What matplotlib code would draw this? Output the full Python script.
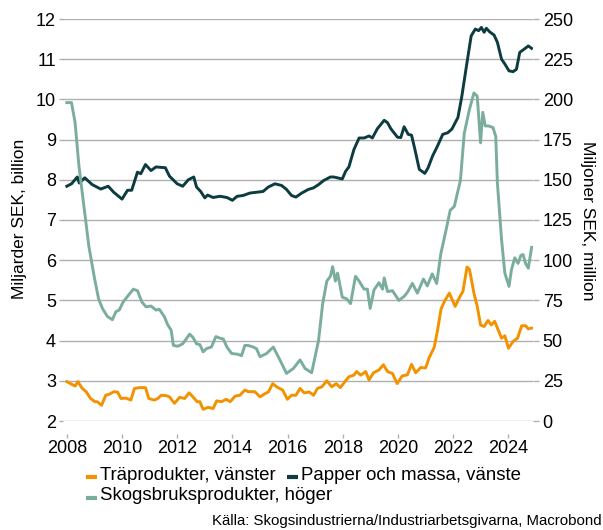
import matplotlib
matplotlib.use('Agg')
import matplotlib.pyplot as plt
from matplotlib.lines import Line2D

plt.rcParams['font.family'] = ['Liberation Sans', 'DejaVu Sans']

# Papper och massa (left axis, miljarder SEK)
papper_x = [2008.0, 2008.17, 2008.38, 2008.45, 2008.65, 2008.92, 2009.23, 2009.5, 2009.7, 2010.0,
            2010.2, 2010.35, 2010.56, 2010.68, 2010.85, 2011.05, 2011.23, 2011.4, 2011.57, 2011.72,
            2012.0, 2012.2, 2012.4, 2012.6, 2012.7, 2012.85, 2013.0, 2013.1, 2013.3, 2013.55,
            2013.8, 2014.0, 2014.17, 2014.39, 2014.63, 2014.87, 2015.11, 2015.3, 2015.54, 2015.78,
            2015.96, 2016.14, 2016.3, 2016.51, 2016.75, 2016.94, 2017.12, 2017.3, 2017.55, 2017.67,
            2017.8, 2017.98, 2018.1, 2018.22, 2018.4, 2018.59, 2018.77, 2018.95, 2019.07, 2019.25,
            2019.5, 2019.62, 2019.74, 2019.98, 2020.1, 2020.22, 2020.37, 2020.49, 2020.61, 2020.77,
            2020.85, 2020.97, 2021.09, 2021.25, 2021.43, 2021.62, 2021.8, 2021.95, 2022.17, 2022.31,
            2022.47, 2022.65, 2022.8, 2022.92, 2023.02, 2023.12, 2023.2, 2023.32, 2023.48, 2023.6,
            2023.75, 2023.87, 2024.02, 2024.17, 2024.29, 2024.41, 2024.57, 2024.72, 2024.84]
papper = [7.84, 7.90, 8.07, 7.92, 8.05, 7.88, 7.77, 7.84, 7.69, 7.52,
          7.74, 7.74, 8.19, 8.15, 8.38, 8.23, 8.32, 8.31, 8.30, 8.09,
          7.90, 7.84, 8.00, 8.07, 7.82, 7.71, 7.55, 7.62, 7.56, 7.59,
          7.56, 7.49, 7.59, 7.61, 7.67, 7.69, 7.71, 7.82, 7.90, 7.86,
          7.76, 7.61, 7.57, 7.67, 7.76, 7.80, 7.88, 7.98, 8.07, 8.07,
          8.05, 8.02, 8.21, 8.32, 8.75, 9.04, 9.04, 9.09, 9.04, 9.27,
          9.48, 9.42, 9.27, 9.06, 9.05, 9.32, 9.13, 9.11, 8.76, 8.26,
          8.22, 8.16, 8.30, 8.59, 8.84, 9.13, 9.17, 9.26, 9.55, 10.07,
          10.79, 11.58, 11.75, 11.71, 11.79, 11.67, 11.77, 11.68, 11.60, 11.42,
          11.00, 10.88, 10.71, 10.69, 10.75, 11.17, 11.25, 11.33, 11.27]

# Träprodukter (left axis, miljarder SEK)
tra_x = [2008.0, 2008.13, 2008.3, 2008.4, 2008.56, 2008.7, 2008.86, 2009.02, 2009.1, 2009.26,
         2009.41, 2009.55, 2009.71, 2009.84, 2009.96, 2010.14, 2010.32, 2010.45, 2010.63, 2010.85,
         2010.97, 2011.17, 2011.3, 2011.42, 2011.6, 2011.72, 2011.9, 2012.09, 2012.27, 2012.43,
         2012.57, 2012.72, 2012.82, 2012.94, 2013.12, 2013.3, 2013.43, 2013.61, 2013.77, 2013.92,
         2014.1, 2014.27, 2014.45, 2014.57, 2014.81, 2015.0, 2015.18, 2015.3, 2015.46, 2015.6,
         2015.82, 2015.99, 2016.14, 2016.3, 2016.45, 2016.6, 2016.79, 2016.94, 2017.08, 2017.24,
         2017.42, 2017.6, 2017.76, 2017.91, 2018.1, 2018.22, 2018.4, 2018.5, 2018.65, 2018.83,
         2018.95, 2019.11, 2019.31, 2019.47, 2019.62, 2019.8, 2019.97, 2020.15, 2020.34, 2020.49,
         2020.64, 2020.82, 2021.0, 2021.13, 2021.31, 2021.43, 2021.56, 2021.7, 2021.86, 2022.07,
         2022.23, 2022.35, 2022.5, 2022.59, 2022.75, 2022.87, 2022.99, 2023.12, 2023.26, 2023.38,
         2023.5, 2023.65, 2023.75, 2023.87, 2024.0, 2024.17, 2024.33, 2024.48, 2024.62, 2024.72,
         2024.84]
tra = [2.98, 2.93, 2.87, 2.98, 2.81, 2.73, 2.56, 2.48, 2.48, 2.39,
       2.64, 2.67, 2.73, 2.72, 2.56, 2.57, 2.52, 2.81, 2.83, 2.83,
       2.56, 2.52, 2.56, 2.64, 2.63, 2.60, 2.44, 2.59, 2.56, 2.70,
       2.60, 2.48, 2.48, 2.29, 2.34, 2.31, 2.50, 2.48, 2.54, 2.48,
       2.62, 2.64, 2.77, 2.73, 2.73, 2.60, 2.68, 2.72, 2.93, 2.85,
       2.77, 2.54, 2.64, 2.64, 2.81, 2.70, 2.72, 2.64, 2.81, 2.85,
       3.00, 2.85, 2.93, 2.83, 3.00, 3.10, 3.14, 3.23, 3.14, 3.23,
       3.02, 3.20, 3.27, 3.40, 3.23, 3.18, 2.93, 3.12, 3.15, 3.41,
       3.20, 3.33, 3.32, 3.58, 3.83, 4.25, 4.79, 5.00, 5.18, 4.85,
       5.08, 5.22, 5.83, 5.77, 5.18, 4.85, 4.39, 4.35, 4.50, 4.39,
       4.48, 4.23, 4.06, 4.12, 3.81, 3.98, 4.06, 4.37, 4.37, 4.29,
       4.31]

# Skogsbruksprodukter (right axis, miljoner SEK)
skog_x = [2008.0, 2008.17, 2008.3, 2008.44, 2008.62, 2008.8, 2008.99, 2009.15, 2009.29, 2009.47,
          2009.65, 2009.78, 2009.9, 2010.04, 2010.2, 2010.41, 2010.56, 2010.72, 2010.87, 2011.05,
          2011.23, 2011.35, 2011.53, 2011.65, 2011.78, 2011.86, 2012.02, 2012.2, 2012.45, 2012.57,
          2012.7, 2012.82, 2012.94, 2013.06, 2013.24, 2013.4, 2013.55, 2013.67, 2013.8, 2013.97,
          2014.2, 2014.33, 2014.45, 2014.57, 2014.75, 2014.87, 2015.0, 2015.24, 2015.48, 2015.72,
          2015.96, 2016.21, 2016.45, 2016.63, 2016.87, 2017.12, 2017.27, 2017.42, 2017.55, 2017.63,
          2017.73, 2017.81, 2017.98, 2018.14, 2018.28, 2018.46, 2018.59, 2018.77, 2018.89, 2018.99,
          2019.13, 2019.31, 2019.44, 2019.5, 2019.62, 2019.8, 2020.03, 2020.22, 2020.34, 2020.52,
          2020.7, 2020.92, 2021.06, 2021.24, 2021.4, 2021.55, 2021.73, 2021.89, 2022.04, 2022.26,
          2022.4, 2022.59, 2022.75, 2022.87, 2022.99, 2023.07, 2023.16, 2023.28, 2023.44, 2023.54,
          2023.6, 2023.75, 2023.87, 2024.02, 2024.11, 2024.23, 2024.35, 2024.45, 2024.53, 2024.62,
          2024.72, 2024.84]
skog = [198, 198, 185.5, 158.5, 133.5, 108.5, 90, 76, 70, 65,
        63, 68, 69, 74, 77.5, 82, 81, 74, 71, 71.5,
        69, 69.5, 65, 60, 56.5, 47, 46.5, 48, 54, 52,
        48, 47.5, 43, 45, 46, 52.5, 51.5, 51, 46, 42,
        41.5, 40.6, 47, 47, 46, 45, 40, 42, 46, 38,
        29.6, 32.7, 38, 32.7, 30, 50, 73, 87, 90, 96,
        87, 92, 77, 76, 73, 90, 87, 82, 82, 70,
        81.5, 86, 82, 89, 80.5, 81, 75, 77.5, 80, 85.6,
        79.5, 88.3, 84, 91.5, 85.5, 104, 118, 131, 133.5, 149.6,
        179, 194, 204, 202, 173, 192, 183.5, 183.5, 182.5, 177,
        148, 113, 92, 83.7, 94, 101.5, 98, 103, 103.5, 98,
        95, 108]

year_ticks = [2008, 2010, 2012, 2014, 2016, 2018, 2020, 2022, 2024]
left_ticks = [2, 3, 4, 5, 6, 7, 8, 9, 10, 11, 12]
right_ticks = [0, 25, 50, 75, 100, 125, 150, 175, 200, 225, 250]

c_tra = '#F39200'
c_papper = '#0C3B40'
c_skog = '#7BAD9E'
c_grid = '#B0B0B0'

fig = plt.figure(figsize=(6.03, 5.30), dpi=100)
ax = fig.add_axes([63 / 603, 1 - 421 / 530, 470 / 603, 402 / 530])
ax2 = ax.twinx()

ax.plot(tra_x, tra, color=c_tra, lw=2.1, solid_joinstyle='round')
ax.plot(papper_x, papper, color=c_papper, lw=2.1, solid_joinstyle='round')
ax2.plot(skog_x, skog, color=c_skog, lw=2.1, solid_joinstyle='round')

ax.set_xlim(2007.862, 2024.89)
ax.set_ylim(2, 12)
ax2.set_ylim(0, 250)
ax.set_yticks(left_ticks)
ax2.set_yticks(right_ticks)
ax.set_xticks(year_ticks)
ax.set_xticklabels([str(y) for y in year_ticks])

ax.grid(axis='y', color=c_grid, lw=1.0)
ax.set_axisbelow(True)
for a in (ax, ax2):
    for s in a.spines.values():
        s.set_visible(False)
ax.spines['bottom'].set_position(('outward', 9))

ax.tick_params(axis='y', length=3, width=1, color=c_grid, pad=2, labelsize=13)
ax2.tick_params(axis='y', length=4, width=1, color=c_grid, pad=3, labelsize=13)
ax.tick_params(axis='x', length=3, width=1, color=c_grid, pad=2, labelsize=13)

fig.text(20 / 603, 1 - 219 / 530, 'Miljarder SEK, billion', rotation=90,
         ha='center', va='center', fontsize=12.5)
fig.text(588 / 603, 1 - 221 / 530, 'Miljoner SEK, million', rotation=-90,
         ha='center', va='center', fontsize=12.5)

# legend drawn by hand so the rows overlap like the original
legend_items = [('Träprodukter, vänster', c_tra, 86, 475),
                ('Papper och massa, vänste', c_papper, 287, 475),
                ('Skogsbruksprodukter, höger', c_skog, 86, 496)]
for label, col, px, py in legend_items:
    fig.add_artist(Line2D([px / 603, (px + 11) / 603], [1 - (py + 2) / 530, 1 - (py + 2) / 530],
                          color=col, lw=3, transform=fig.transFigure, solid_capstyle='butt'))
    fig.text((px + 14) / 603, 1 - py / 530, label, ha='left', va='center', fontsize=13.4)

fig.text(212 / 603, 1 - 528 / 530, 'Källa: Skogsindustrierna/Industriarbetsgivarna, Macrobond',
         ha='left', va='bottom', fontsize=10.8)

plt.savefig('out.png', dpi=100)
